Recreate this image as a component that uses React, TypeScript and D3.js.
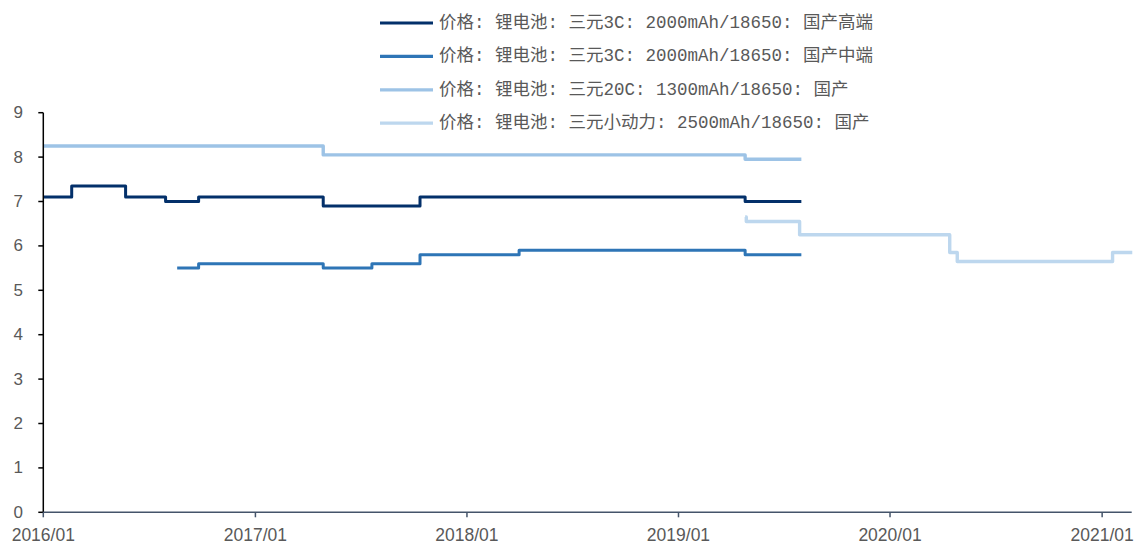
import React from "react";
import * as d3 from "d3";

// Price series (yuan per cell), stored as change points; each value holds until the next date.
const highEndDates = ["2016-01-01", "2016-02-19", "2016-05-22", "2016-07-30", "2016-09-25", "2017-04-28", "2017-10-12", "2019-04-26", "2019-08-01"];
const highEndValues = [7.1, 7.35, 7.1, 7.0, 7.1, 6.9, 7.1, 7.0, 7.0];

const midEndDates = ["2016-08-19", "2016-09-25", "2017-04-28", "2017-07-21", "2017-10-12", "2018-04-01", "2019-04-26", "2019-08-01"];
const midEndValues = [5.5, 5.6, 5.5, 5.6, 5.8, 5.9, 5.8, 5.8];

const rate20CDates = ["2016-01-01", "2017-04-28", "2019-04-26", "2019-08-01"];
const rate20CValues = [8.25, 8.05, 7.95, 7.95];

const powerDates = ["2019-04-26", "2019-04-28", "2019-07-29", "2020-04-13", "2020-04-26", "2021-01-19", "2021-02-22"];
const powerValues = [6.65, 6.55, 6.25, 5.85, 5.65, 5.85, 5.85];

const seriesNames = [
  "价格: 锂电池: 三元3C: 2000mAh/18650: 国产高端",
  "价格: 锂电池: 三元3C: 2000mAh/18650: 国产中端",
  "价格: 锂电池: 三元20C: 1300mAh/18650: 国产",
  "价格: 锂电池: 三元小动力: 2500mAh/18650: 国产",
];
const seriesColors = ["#03306a", "#2e75b6", "#9dc3e6", "#bdd7ee"];

const yTicks = [0, 1, 2, 3, 4, 5, 6, 7, 8, 9];
const xTickLabels = ["2016/01", "2017/01", "2018/01", "2019/01", "2020/01", "2021/01"];

const W = 1137;
const H = 543;
const left = 43.3;
const right = 1131.7;
const top = 112.7;
const bottom = 512.3;

const parse = d3.timeParse("%Y-%m-%d");
const parseTick = d3.timeParse("%Y/%m");

export default function App() {
  const x = d3
    .scaleTime()
    .domain([parse("2016-01-01")!, parse("2021-02-21")!])
    .range([left, right]);
  const y = d3.scaleLinear().domain([0, 9]).range([bottom, top]);

  const series = [
    { dates: highEndDates, values: highEndValues, width: 3 },
    { dates: midEndDates, values: midEndValues, width: 3 },
    { dates: rate20CDates, values: rate20CValues, width: 3.4 },
    { dates: powerDates, values: powerValues, width: 3.4 },
  ];

  const line = d3
    .line<[Date, number]>()
    .x((d) => x(d[0]))
    .y((d) => y(d[1]))
    .curve(d3.curveStepAfter);

  const legendFont = "'Liberation Mono', 'Noto Sans CJK SC', monospace";
  const axisFont = "'Liberation Sans', Arial, sans-serif";

  return (
    <svg
      width={W}
      height={H}
      style={{ position: "absolute", left: 0, top: 0, background: "#fff" }}
    >
      {/* legend */}
      {seriesNames.map((name, i) => {
        const ly = 23 + i * 33.4;
        return (
          <g key={name}>
            <line x1={380} x2={433} y1={ly} y2={ly} stroke={seriesColors[i]} strokeWidth={3.2} />
            <text
              x={439}
              y={ly}
              dominantBaseline="central"
              fontFamily={legendFont}
              fontSize={17.5}
              fill="#595959"
            >
              {name}
            </text>
          </g>
        );
      })}

      {/* series */}
      {series.map((s, i) => {
        const pts: [Date, number][] = s.dates.map((d, j) => [parse(d)!, s.values[j]]);
        return (
          <path
            key={i}
            d={line(pts) || ""}
            fill="none"
            stroke={seriesColors[i]}
            strokeWidth={s.width}
            strokeLinejoin="round"
          />
        );
      })}

      {/* y axis */}
      <line x1={left} x2={left} y1={top} y2={bottom} stroke="#000" strokeWidth={1.5} />
      {yTicks.map((t) => (
        <g key={t}>
          <line x1={left - 5} x2={left} y1={y(t)} y2={y(t)} stroke="#000" strokeWidth={1.5} />
          <text
            x={23}
            y={y(t)}
            textAnchor="end"
            dominantBaseline="central"
            fontFamily={axisFont}
            fontSize={17}
            fill="#595959"
          >
            {t}
          </text>
        </g>
      ))}

      {/* x axis */}
      <line x1={left} x2={right} y1={bottom} y2={bottom} stroke="#44546a" strokeWidth={1.6} />
      {xTickLabels.map((lab) => {
        const tx = x(parseTick(lab)!);
        return (
          <g key={lab}>
            <line x1={tx} x2={tx} y1={bottom} y2={bottom + 5} stroke="#44546a" strokeWidth={1.5} />
            <text
              x={tx}
              y={540.5}
              textAnchor="middle"
              fontFamily={axisFont}
              fontSize={17.5}
              fill="#595959"
            >
              {lab}
            </text>
          </g>
        );
      })}
    </svg>
  );
}
